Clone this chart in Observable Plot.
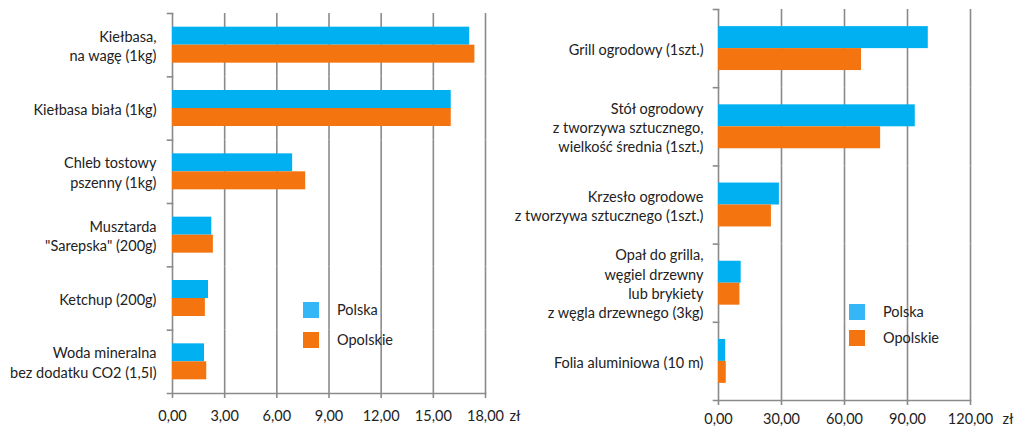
<!DOCTYPE html>
<html><head><meta charset="utf-8">
<script src="https://cdn.jsdelivr.net/npm/d3@7"></script>
<script src="https://cdn.jsdelivr.net/npm/@observablehq/plot@0.6"></script>
<style>
body{margin:0;background:#fff;}
#wrap{position:relative;width:1017px;height:427px;overflow:hidden;font-family:Lato,sans-serif;color:#222;}
.chart{position:absolute;top:0;}
.leg{position:absolute;font-size:14.5px;white-space:nowrap;line-height:16px;}
.sw{position:absolute;width:16px;height:16px;}
</style></head><body><div id="wrap"></div>
<script>
const series = ["Polska", "Opolskie"];
const seriesColors = ["#00B0F0", "#F4740F"];
const legendColors = ["#35B6F6", "#F4740F"];

const leftCategories = [
  "Kiełbasa,\nna wagę (1kg)",
  "Kiełbasa biała (1kg)",
  "Chleb tostowy\npszenny (1kg)",
  "Musztarda\n\"Sarepska\" (200g)",
  "Ketchup (200g)",
  "Woda mineralna\nbez dodatku CO2 (1,5l)"
];
const leftPolska =   [17.09, 16.03, 6.91, 2.26, 2.07, 1.84];
const leftOpolskie = [17.39, 16.03, 7.66, 2.35, 1.89, 1.97];
const leftTicks = [0, 3, 6, 9, 12, 15, 18];

const rightCategories = [
  "Grill ogrodowy (1szt.)",
  "Stół ogrodowy\nz tworzywa sztucznego,\nwielkość średnia (1szt.)",
  "Krzesło ogrodowe\nz tworzywa sztucznego (1szt.)",
  "Opał do grilla,\nwęgiel drzewny\nlub brykiety\nz węgla drzewnego (3kg)",
  "Folia aluminiowa (10 m)"
];
const rightPolska =   [99.9, 93.7, 29.0, 10.8, 3.4];
const rightOpolskie = [68.1, 77.2, 25.2, 10.2, 3.7];
const rightTicks = [0, 30, 60, 90, 120];

const unitLabel = "zł";

const fmt = d => d.toFixed(2).replace(".", ",");
const gridColor = "#8a8a8a";
const textColor = "#222";

function makeChart(o) {
  const data = o.categories.flatMap((c, i) => [
    {cat: c, series: series[0], value: o.polska[i]},
    {cat: c, series: series[1], value: o.opolskie[i]}
  ]);
  const plotW = o.width - o.marginLeft - o.marginRight;
  return Plot.plot({
    width: o.width, height: o.height,
    marginLeft: o.marginLeft, marginRight: o.marginRight,
    marginTop: o.marginTop, marginBottom: o.marginBottom,
    style: {fontFamily: "Lato, sans-serif", fontSize: "14.5px", color: textColor, background: "transparent", overflow: "visible"},
    x: {domain: [0, o.ticks[o.ticks.length - 1]], axis: null},
    fy: {domain: o.categories, padding: 0, round: false, axis: null},
    y: {domain: series, paddingInner: 0, paddingOuter: o.padOuter, round: false, axis: null},
    color: {domain: series, range: seriesColors},
    marks: [
      Plot.ruleX(o.ticks, {stroke: gridColor, strokeWidth: 1.6}),
      Plot.frame({facet: "super", anchor: "bottom", stroke: gridColor, strokeWidth: 1.6, insetLeft: -5}),
      Plot.frame({anchor: "top", stroke: gridColor, strokeWidth: 1.6, insetLeft: -5, insetRight: plotW}),
      Plot.barX(data, {fy: "cat", y: "series", x: "value", fill: "series"}),
      Plot.axisFy({anchor: "left", tickSize: 0, tickPadding: o.labelPad, label: null, lineHeight: 1.33, fill: textColor}),
      Plot.axisX({ticks: o.ticks, tickFormat: fmt, tickSize: 5, tickPadding: o.tickPad, label: null, stroke: gridColor, strokeWidth: 1.6, fill: textColor}),
      Plot.text([unitLabel], {facet: "super", frameAnchor: "bottom-right", text: d => d, dx: o.unitDx, dy: o.unitDy, textAnchor: "start", lineAnchor: "middle", fill: textColor})
    ]
  });
}

const wrap = document.getElementById("wrap");

const left = makeChart({
  categories: leftCategories, polska: leftPolska, opolskie: leftOpolskie, ticks: leftTicks,
  width: 530, height: 427, marginLeft: 172, marginRight: 45, marginTop: 13, marginBottom: 34,
  padOuter: 0.76, labelPad: 16, tickPad: 12, unitDx: 24, unitDy: 23
});
left.classList.add("chart"); left.style.left = "0px";
wrap.appendChild(left);

const right = makeChart({
  categories: rightCategories, polska: rightPolska, opolskie: rightOpolskie, ticks: rightTicks,
  width: 509, height: 427, marginLeft: 210, marginRight: 47, marginTop: 9, marginBottom: 27,
  padOuter: 0.78, labelPad: 15, tickPad: 8, unitDx: 32, unitDy: 19
});
right.classList.add("chart"); right.style.left = "508px";
wrap.appendChild(right);

function legend(x, ys) {
  series.forEach((s, i) => {
    const sw = document.createElement("div");
    sw.className = "sw";
    sw.style.left = x + "px"; sw.style.top = ys[i] + "px";
    sw.style.background = legendColors[i];
    wrap.appendChild(sw);
    const t = document.createElement("div");
    t.className = "leg";
    t.style.left = (x + 34) + "px"; t.style.top = ys[i] + "px";
    t.textContent = s;
    wrap.appendChild(t);
  });
}
legend(303, [302, 332]);
legend(849, [304, 330]);
</script></body></html>
